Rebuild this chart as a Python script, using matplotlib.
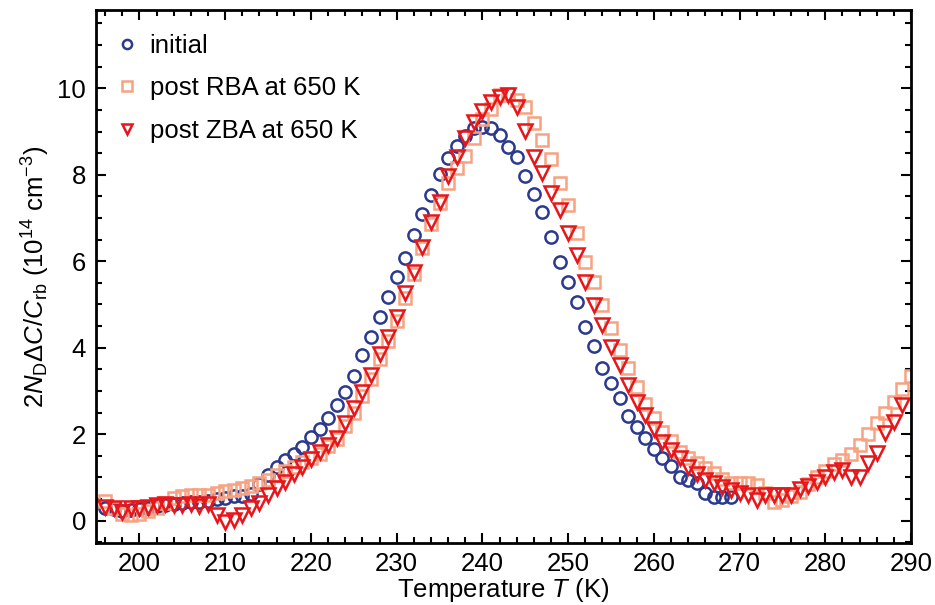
import matplotlib
matplotlib.use("Agg")
import matplotlib.pyplot as plt
from matplotlib.ticker import MultipleLocator

plt.rcParams["font.family"] = ["Liberation Sans", "DejaVu Sans"]
plt.rcParams["mathtext.fontset"] = "custom"
plt.rcParams["mathtext.rm"] = "Liberation Sans"
plt.rcParams["mathtext.it"] = "Liberation Sans:italic"

# initial
t_init = list(range(196, 270))
v_init = [0.30, 0.28, 0.22, 0.25, 0.28, 0.30, 0.34, 0.37, 0.38, 0.40,
          0.42, 0.44, 0.46, 0.50, 0.53, 0.56, 0.57, 0.62, 0.85, 1.05,
          1.25, 1.40, 1.55, 1.71, 1.93, 2.11, 2.37, 2.68, 2.98, 3.35,
          3.83, 4.24, 4.72, 5.18, 5.64, 6.08, 6.61, 7.09, 7.53, 8.02,
          8.38, 8.67, 8.90, 9.07, 9.11, 9.08, 8.92, 8.64, 8.40, 7.96,
          7.56, 7.15, 6.57, 5.99, 5.52, 5.05, 4.49, 4.04, 3.54, 3.18,
          2.83, 2.41, 2.17, 1.92, 1.66, 1.46, 1.27, 1.00, 0.93, 0.86,
          0.63, 0.54, 0.54, 0.54]

# post RBA at 650 K
t_rba = list(range(196, 291))
v_rba = [0.45, 0.30, 0.15, 0.12, 0.15, 0.22, 0.30, 0.40, 0.52, 0.56,
         0.60, 0.60, 0.60, 0.65, 0.68, 0.72, 0.75, 0.80, 0.88, 0.95,
         1.05, 1.15, 1.25, 1.35, 1.45, 1.55, 1.72, 1.88, 2.18, 2.48,
         2.88, 3.28, 3.75, 4.15, 4.62, 5.15, 5.70, 6.30, 6.85, 7.35,
         7.80, 8.15, 8.44, 8.84, 9.30, 9.51, 9.84, 9.87, 9.74, 9.57,
         9.20, 8.80, 8.36, 7.80, 7.30, 6.65, 5.99, 5.51, 4.99, 4.45,
         3.95, 3.52, 3.10, 2.70, 2.38, 2.06, 1.85, 1.58, 1.45, 1.33,
         1.21, 1.10, 0.96, 0.88, 0.86, 0.86, 0.83, 0.63, 0.44, 0.48,
         0.56, 0.67, 0.85, 1.00, 1.15, 1.30, 1.40, 1.55, 1.75, 2.00,
         2.25, 2.50, 2.75, 3.05, 3.35]

# post ZBA at 650 K
t_zba = list(range(196, 290))
v_zba = [0.32, 0.29, 0.21, 0.29, 0.29, 0.32, 0.36, 0.39, 0.36, 0.36,
         0.39, 0.34, 0.39, 0.13, -0.02, 0.02, 0.13, 0.29, 0.40, 0.59,
         0.75, 0.90, 1.08, 1.25, 1.42, 1.58, 1.75, 1.91, 2.25, 2.60,
         2.98, 3.38, 3.85, 4.25, 4.72, 5.26, 5.76, 6.34, 6.90, 7.38,
         7.97, 8.42, 8.84, 9.23, 9.48, 9.69, 9.81, 9.84, 9.57, 9.02,
         8.42, 8.03, 7.57, 7.19, 6.66, 6.15, 5.53, 4.99, 4.53, 4.02,
         3.60, 3.14, 2.75, 2.44, 2.12, 1.83, 1.63, 1.44, 1.25, 1.08,
         0.94, 0.86, 0.77, 0.71, 0.65, 0.59, 0.48, 0.59, 0.59, 0.59,
         0.59, 0.73, 0.79, 0.90, 1.00, 1.13, 1.17, 1.02, 1.00, 1.33,
         1.56, 2.02, 2.29, 2.68]

fig = plt.figure(figsize=(9.35, 6.05), dpi=100)
ax = fig.add_axes([0.1024, 0.103, 0.872, 0.8797])

ax.plot(t_init, v_init, "o", ls="none", mfc="none", mec="#2B3A8F",
        ms=8.8, mew=1.8, label="initial")
ax.plot(t_rba, v_rba, "s", ls="none", mfc="none", mec="#F7A283",
        ms=8.8, mew=1.8, label="post RBA at 650 K")
ax.plot(t_zba, v_zba, "v", ls="none", mfc="none", mec="#E8161B",
        ms=9.8, mew=1.8, label="post ZBA at 650 K")

ax.set_xlim(194.9, 290)
ax.set_ylim(-0.51, 11.8)
ax.xaxis.set_major_locator(MultipleLocator(10))
ax.xaxis.set_minor_locator(MultipleLocator(2))
ax.yaxis.set_major_locator(MultipleLocator(2))
ax.yaxis.set_minor_locator(MultipleLocator(0.5))
ax.tick_params(which="both", direction="in", top=True, right=True,
               labelsize=18.5, width=1.5, pad=7)
ax.tick_params(which="major", length=7)
ax.tick_params(which="minor", length=4)
for side in ax.spines.values():
    side.set_linewidth(2)

ax.set_xlabel(r"Temperature $T$ (K)", fontsize=18.5, labelpad=0)
ax.set_ylabel(r"$2N_{\rm D}\Delta C/C_{\rm rb}$ (10$^{14}$ cm$^{-3}$)",
              fontsize=18.5, labelpad=4)

ax.legend(loc="upper left", bbox_to_anchor=(0.0, 0.995), frameon=False,
          fontsize=18.5, markerscale=0.75, handlelength=0.8,
          handletextpad=0.5, labelspacing=0.72, borderaxespad=0.4)

fig.savefig("out.png", dpi=100)
